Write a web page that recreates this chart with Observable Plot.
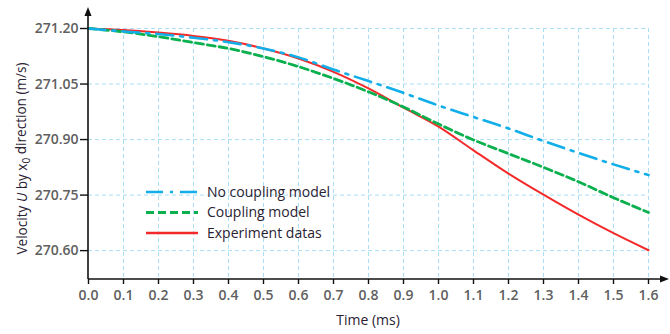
<!DOCTYPE html>
<html><head><meta charset="utf-8">
<script src="https://cdn.jsdelivr.net/npm/d3@7"></script>
<script src="https://cdn.jsdelivr.net/npm/@observablehq/plot@0.6"></script>
<style>body{margin:0;background:#fff} #chart svg{display:block;background:#fff}</style>
</head><body><div id="chart"></div>
<script>
// ---- data ----
const times = [0.0,0.1,0.2,0.3,0.4,0.5,0.6,0.7,0.8,0.9,1.0,1.1,1.2,1.3,1.4,1.5,1.6];
const noCoupling = [271.200,271.192,271.185,271.175,271.163,271.146,271.122,271.089,271.058,271.026,270.992,270.961,270.930,270.896,270.864,270.833,270.804];
const coupling   = [271.200,271.191,271.178,271.162,271.146,271.124,271.097,271.065,271.029,270.988,270.942,270.899,270.862,270.825,270.786,270.743,270.703];
const experiment = [271.200,271.196,271.189,271.180,271.167,271.146,271.119,271.083,271.038,270.986,270.935,270.871,270.808,270.751,270.697,270.647,270.601];
const seriesNames = ["No coupling model","Coupling model","Experiment datas"];
const xTicks = [0.0,0.1,0.2,0.3,0.4,0.5,0.6,0.7,0.8,0.9,1.0,1.1,1.2,1.3,1.4,1.5,1.6];
const yTicks = [270.60,270.75,270.90,271.05,271.20];

const styles = {
  "No coupling model": {stroke:"#12aee9", width:2.6, dash:"17,7,3,7"},
  "Coupling model":    {stroke:"#0ab04e", width:2.8, dash:"8,4"},
  "Experiment datas":  {stroke:"#f42a2a", width:2, dash:null}
};
const rows = [];
[noCoupling, coupling, experiment].forEach((vals, k) => {
  vals.forEach((v, i) => rows.push({series: seriesNames[k], t: times[i], v}));
});
const font = "'Open Sans', 'DejaVu Sans', sans-serif";
const gridColor = "#a9def6";

function lineFor(name) {
  const s = styles[name];
  return Plot.line(rows.filter(d => d.series === name), {
    x: "t", y: "v", stroke: s.stroke, strokeWidth: s.width,
    strokeDasharray: s.dash ?? undefined, curve: "catmull-rom"
  });
}

// axis lines with arrowheads
function axesArrows(index, scales, values, dims) {
  const g = d3.create("svg:g");
  const x0 = scales.x(0), yb = dims.height - dims.marginBottom;
  g.append("line").attr("x1", x0).attr("x2", x0).attr("y1", yb).attr("y2", 14)
    .attr("stroke", "#111").attr("stroke-width", 1.6);
  g.append("path").attr("d", `M${x0},7L${x0-3.5},16L${x0+3.5},16Z`).attr("fill", "#111");
  g.append("line").attr("x1", x0).attr("x2", dims.width - 8).attr("y1", yb).attr("y2", yb)
    .attr("stroke", "#111").attr("stroke-width", 1.6);
  const xe = dims.width - 1;
  g.append("path").attr("d", `M${xe},${yb}L${xe-9},${yb-3.5}L${xe-9},${yb+3.5}Z`).attr("fill", "#111");
  return g.node();
}

// legend inside the plot
function legend(index, scales, values, dims) {
  const g = d3.create("svg:g").attr("text-anchor", "start");
  const lx = dims.marginLeft + 58, ly = 192;
  seriesNames.forEach((name, i) => {
    const s = styles[name], y = ly + i * 20.5;
    g.append("line").attr("x1", lx).attr("x2", lx + 52).attr("y1", y).attr("y2", y)
      .attr("stroke", s.stroke).attr("stroke-width", name === "Experiment datas" ? 2.6 : s.width)
      .attr("stroke-dasharray", s.dash ?? null);
    g.append("text").attr("x", lx + 61).attr("y", y).attr("dy", "0.35em")
      .attr("text-anchor", "start")
      .attr("font-family", font).attr("font-size", 14).attr("fill", "#2a2233")
      .text(name);
  });
  return g.node();
}

// y axis title with italic U and subscript 0
function yTitle(index, scales, values, dims) {
  const cy = (dims.marginTop + dims.height - dims.marginBottom) / 2 + 5;
  const t = d3.create("svg:text")
    .attr("transform", `translate(27,${cy}) rotate(-90)`)
    .attr("text-anchor", "middle").attr("font-family", font).attr("font-size", 13.6)
    .attr("fill", "#2a2233");
  t.append("tspan").text("Velocity ");
  t.append("tspan").attr("font-style", "italic").text("U");
  t.append("tspan").text(" by x");
  t.append("tspan").attr("font-size", 10).attr("dy", "0.3em").text("0");
  t.append("tspan").attr("dy", "-0.3em").text(" direction (m/s)");
  return t.node();
}

function xTitle(index, scales, values, dims) {
  return d3.create("svg:text")
    .attr("x", (dims.marginLeft + dims.width - dims.marginRight) / 2)
    .attr("y", 325).attr("text-anchor", "middle")
    .attr("font-family", font).attr("font-size", 14).attr("fill", "#2a2233")
    .text("Time (ms)").node();
}

const chart = Plot.plot({
  width: 670, height: 334,
  marginLeft: 88, marginRight: 22, marginTop: 28, marginBottom: 55,
  style: {fontFamily: font, background: "#fff"},
  x: {domain: [0, 1.6]},
  y: {domain: [270.522, 271.2]},
  marks: [
    Plot.gridX(xTicks.filter(t => t > 0), {stroke: gridColor, strokeOpacity: 1, strokeDasharray: "4,3"}),
    Plot.gridY(yTicks, {stroke: gridColor, strokeOpacity: 1, strokeDasharray: "4,3"}),
    Plot.axisX(xTicks, {tickSize: 5, tickPadding: 6, tickFormat: d3.format(".1f"), label: null,
      fontSize: 14, fontWeight: 600, fill: "#5f5f5f", stroke: "#111", strokeWidth: 1.4, strokeOpacity: 1}),
    Plot.axisY(yTicks, {tickSize: 8, tickPadding: 2, tickFormat: d3.format(".2f"), label: null,
      fontSize: 14, fontWeight: 600, fill: "#5f5f5f", stroke: "#111", strokeWidth: 1.4, strokeOpacity: 1}),
    lineFor("Experiment datas"),
    lineFor("Coupling model"),
    lineFor("No coupling model"),
    axesArrows,
    legend,
    yTitle,
    xTitle
  ]
});
document.getElementById("chart").appendChild(chart);
</script>
</body></html>
